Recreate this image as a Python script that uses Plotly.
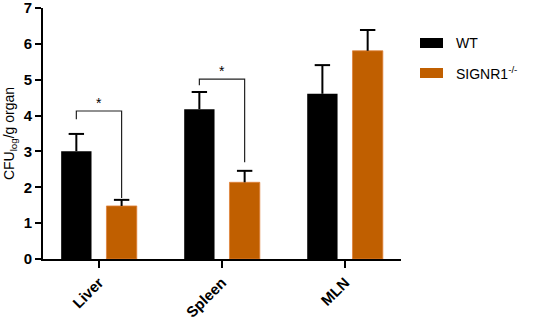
import plotly.graph_objects as go

categories = ["Liver", "Spleen", "MLN"]
wt_values = [3.01, 4.18, 4.61]
wt_err_top = [3.49, 4.66, 5.41]
ko_values = [1.48, 2.14, 5.81]
ko_err_top = [1.65, 2.46, 6.39]
series_names = ["WT", "SIGNR1<sup>-/-</sup>"]
y_ticks = [0, 1, 2, 3, 4, 5, 6, 7]
# significance brackets: (category index, top y, left bottom y, right bottom y, label)
sig_cat = [0, 1]
sig_top = [4.13, 5.02]
sig_left_bottom = [3.90, 4.85]
sig_right_bottom = [1.70, 2.70]
sig_label = ["*", "*"]

BLACK = "#000000"
ORANGE = "#C05F00"
FONT = "Arial, Liberation Sans, sans-serif"
BARGAP = 0.264
GROUPGAP = 0.33

fig = go.Figure()
fig.add_trace(go.Bar(
    x=categories, y=wt_values, name=series_names[0],
    marker=dict(color=BLACK, line=dict(width=0)),
    showlegend=False,
))
fig.add_trace(go.Bar(
    x=categories, y=ko_values, name=series_names[1],
    marker=dict(color=ORANGE, line=dict(width=0.8, color="#E0823A")),
    showlegend=False,
))

off = (1 - BARGAP) / 4

# upward-only error bars (stem + cap at top)
for sign, vals, tops in [(-1, wt_values, wt_err_top), (1, ko_values, ko_err_top)]:
    xs, ys = [], []
    for ci, (v, t) in enumerate(zip(vals, tops)):
        xs += [ci + sign * off, ci + sign * off, None]
        ys += [v, t, None]
    fig.add_trace(go.Scatter(x=xs, y=ys, mode="lines", xaxis="x2",
                             line=dict(color=BLACK, width=2),
                             showlegend=False, hoverinfo="skip"))
    fig.add_trace(go.Scatter(
        x=[ci + sign * off for ci in range(len(tops))], y=tops,
        mode="markers", xaxis="x2",
        marker=dict(symbol="line-ew", size=11,
                    line=dict(color=BLACK, width=2)),
        showlegend=False, hoverinfo="skip"))

for ci, top, lb, rb, lab in zip(sig_cat, sig_top, sig_left_bottom, sig_right_bottom, sig_label):
    xl = ci - off
    xr = ci + off
    fig.add_trace(go.Scatter(
        x=[xl, xl, xr, xr], y=[lb, top, top, rb], mode="lines",
        line=dict(color="#222222", width=1.2), showlegend=False,
        hoverinfo="skip", xaxis="x2",
    ))
    fig.add_annotation(x=ci, y=top, xref="x2", yref="y", text=lab,
                       showarrow=False, yanchor="bottom", yshift=-2,
                       font=dict(family=FONT, size=14, color=BLACK))

# manual legend
leg_colors = [BLACK, ORANGE]
leg_y = [43, 73]
for name, col, yy in zip(series_names, leg_colors, leg_y):
    fig.add_shape(type="rect", xref="paper", yref="paper",
                  x0=(420 - 43) / 358, x1=(443 - 43) / 358,
                  y0=(259 - yy - 5) / 251, y1=(259 - yy + 5) / 251,
                  fillcolor=col, line=dict(width=0))
    fig.add_annotation(xref="paper", yref="paper", x=(454 - 43) / 358,
                       y=(259 - yy) / 251, text=name, showarrow=False,
                       xanchor="left", yanchor="middle",
                       font=dict(family=FONT, size=14, color=BLACK))

fig.update_layout(
    width=536, height=322,
    margin=dict(l=43, r=135, t=8, b=63, autoexpand=False),
    plot_bgcolor="white", paper_bgcolor="white",
    barmode="group", bargap=BARGAP, bargroupgap=GROUPGAP,
    font=dict(family=FONT, color=BLACK),
    xaxis=dict(
        range=[-0.455, 2.455], showline=True, linecolor=BLACK, linewidth=2,
        ticks="outside", ticklen=7, tickwidth=2, tickcolor=BLACK,
        tickangle=-45, tickvals=categories, automargin=False,
        ticktext=["<b>%s</b>" % c for c in categories],
        tickfont=dict(family=FONT, size=15, color=BLACK),
        showgrid=False, zeroline=False,
    ),
    xaxis2=dict(range=[-0.455, 2.455], overlaying="x", visible=False),
    yaxis=dict(
        range=[0, 7.004], showline=True, linecolor=BLACK, linewidth=2,
        ticks="outside", ticklen=6, tickwidth=2, tickcolor=BLACK,
        tickvals=y_ticks, ticktext=["<b>%d</b>" % v for v in y_ticks],
        tickfont=dict(family=FONT, size=15, color=BLACK),
        ticklabeloverflow="allow",
        showgrid=False, zeroline=False, automargin=False,
        title=dict(text="CFU<sub>log</sub>/g organ", standoff=6,
                   font=dict(family=FONT, size=14, color=BLACK)),
    ),
)

fig.write_html("out.html", config={"displayModeBar": False},
               post_script="document.body.style.margin='0';")
